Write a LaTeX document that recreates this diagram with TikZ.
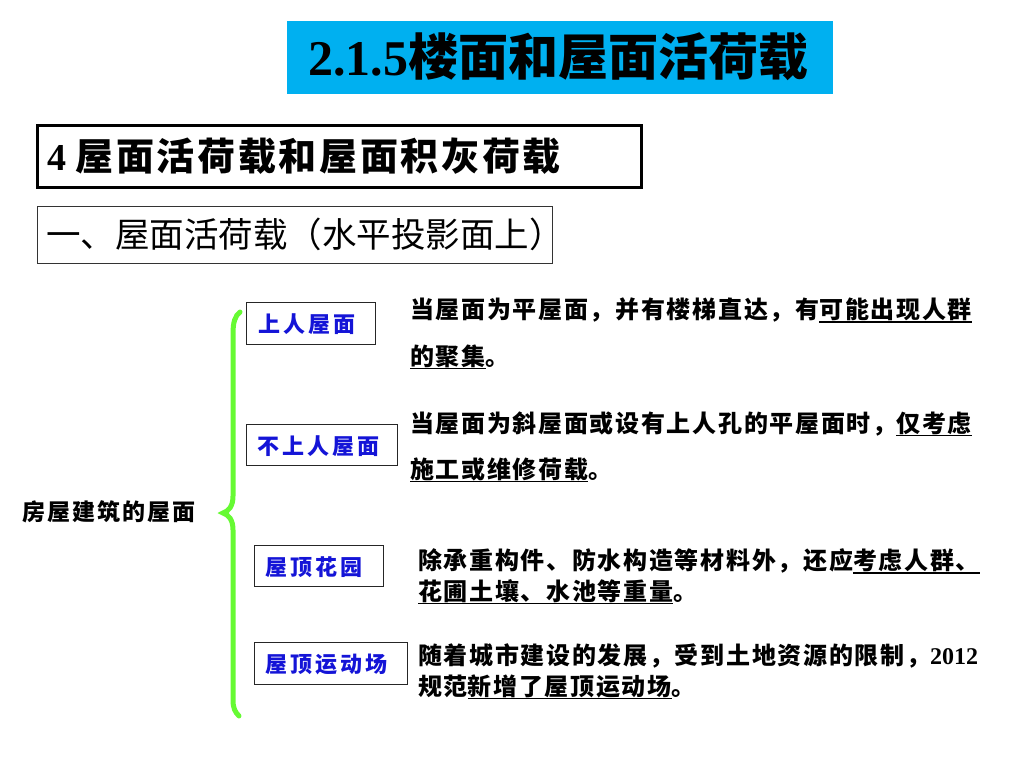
\documentclass[tikz,border=0pt]{standalone}
\usepackage{fontspec}
\setmainfont{Liberation Serif}
\newfontfamily\cjk{Noto Sans CJK SC}
\newfontfamily\cjksp[LetterSpace=7]{Noto Sans CJK SC}
\newfontfamily\cjkspb[LetterSpace=14]{Noto Sans CJK SC}
\newfontfamily\cjkspc[LetterSpace=9]{Noto Sans CJK SC}
\newcommand\myul[1]{\setbox0\hbox{#1}\rlap{\smash{\rule[-4pt]{\wd0}{1.4pt}}}\box0}
\definecolor{titlecyan}{RGB}{0,176,240}
\definecolor{bracegreen}{RGB}{102,250,51}
\definecolor{itemblue}{RGB}{20,20,215}
\tikzset{
  titlebox/.style={fill=titlecyan, draw=none, minimum width=546pt, minimum height=73pt, inner sep=0pt},
  headbox/.style={draw=black, line width=3pt, minimum width=604pt, minimum height=62pt, inner sep=0pt},
  subbox/.style={draw=black!80, line width=0.8pt, minimum width=515pt, minimum height=57pt, inner sep=0pt},
  itemtext/.style={text=itemblue, font=\cjkspb\bfseries\fontsize{22}{22}\selectfont, anchor=west, inner sep=0pt},
  desc/.style={anchor=west, inner sep=0pt, font=\cjksp\bfseries\fontsize{24}{24}\selectfont},
  brace/.style={draw=bracegreen, line width=5pt, line cap=round},
  framebox/.style={draw=black!85, line width=1pt},
}
\begin{document}
\begin{tikzpicture}[x=1pt,y=-1pt]
\useasboundingbox (0,0) rectangle (1024,768);
% title
\node[titlebox] (title) at (560,57.5) {};
\node[inner sep=0pt] (titletext) at (558,57) {\fontsize{50}{52}\selectfont\bfseries 2.1.5{\cjk\bfseries 楼面和屋面活荷载}};
% heading
\node[headbox] (head) at (339,156) {};
\node[anchor=west, inner sep=0pt] (headtext) at (47,156) {\fontsize{38}{40}\selectfont\bfseries 4 {\cjksp\bfseries 屋面活荷载和屋面积灰荷载}};
% sub heading
\node[subbox] (sub) at (294.5,234.5) {};
\node[anchor=west, inner sep=0pt] (subtext) at (46,234) {\cjk\fontsize{34.5}{35}\selectfont 一、屋面活荷载（水平投影面上）};
% left label
\node[anchor=west, inner sep=0pt, font=\cjkspc\bfseries\fontsize{23}{23}\selectfont] (root) at (22,512) {房屋建筑的屋面};
% brace
\draw[brace] (240,312) .. controls (235,316) and (233,322) .. (233,334) -- (233,496) .. controls (233,506) and (229,511) .. (223,513) .. controls (229,515) and (233,520) .. (233,530) -- (233,700) .. controls (233,708) and (235,712) .. (239,716);
% items
\draw[framebox] (246,302) rectangle (375,344);
\node[itemtext] (i1) at (258,324) {上人屋面};
\draw[framebox] (246,424) rectangle (397,465);
\node[itemtext] (i2) at (257,446) {不上人屋面};
\draw[framebox] (254,545) rectangle (383,586);
\node[itemtext] (i3) at (265,567) {屋顶花园};
\draw[framebox] (254,642) rectangle (407,684);
\node[itemtext] (i4) at (265,664) {屋顶运动场};
% descriptions
\node[desc] (d1a) at (410,310) {当屋面为平屋面，并有楼梯直达，有\myul{可能出现人群}};
\node[desc] (d1b) at (410,356) {\myul{的聚集}。};
\node[desc] (d2a) at (410,424) {当屋面为斜屋面或设有上人孔的平屋面时，\myul{仅考虑}};
\node[desc] (d2b) at (410,469) {\myul{施工或维修荷载}。};
\node[desc] (d3a) at (418,561) {除承重构件、防水构造等材料外，还应\myul{考虑人群、}};
\node[desc] (d3b) at (418,591) {\myul{花圃土壤、水池等重量}。};
\node[desc] (d4a) at (418,656) {随着城市建设的发展，受到土地资源的限制，{\rmfamily\bfseries 2012}};
\node[desc] (d4b) at (418,686) {规范\myul{新增了屋顶运动场}。};
\end{tikzpicture}
\end{document}
